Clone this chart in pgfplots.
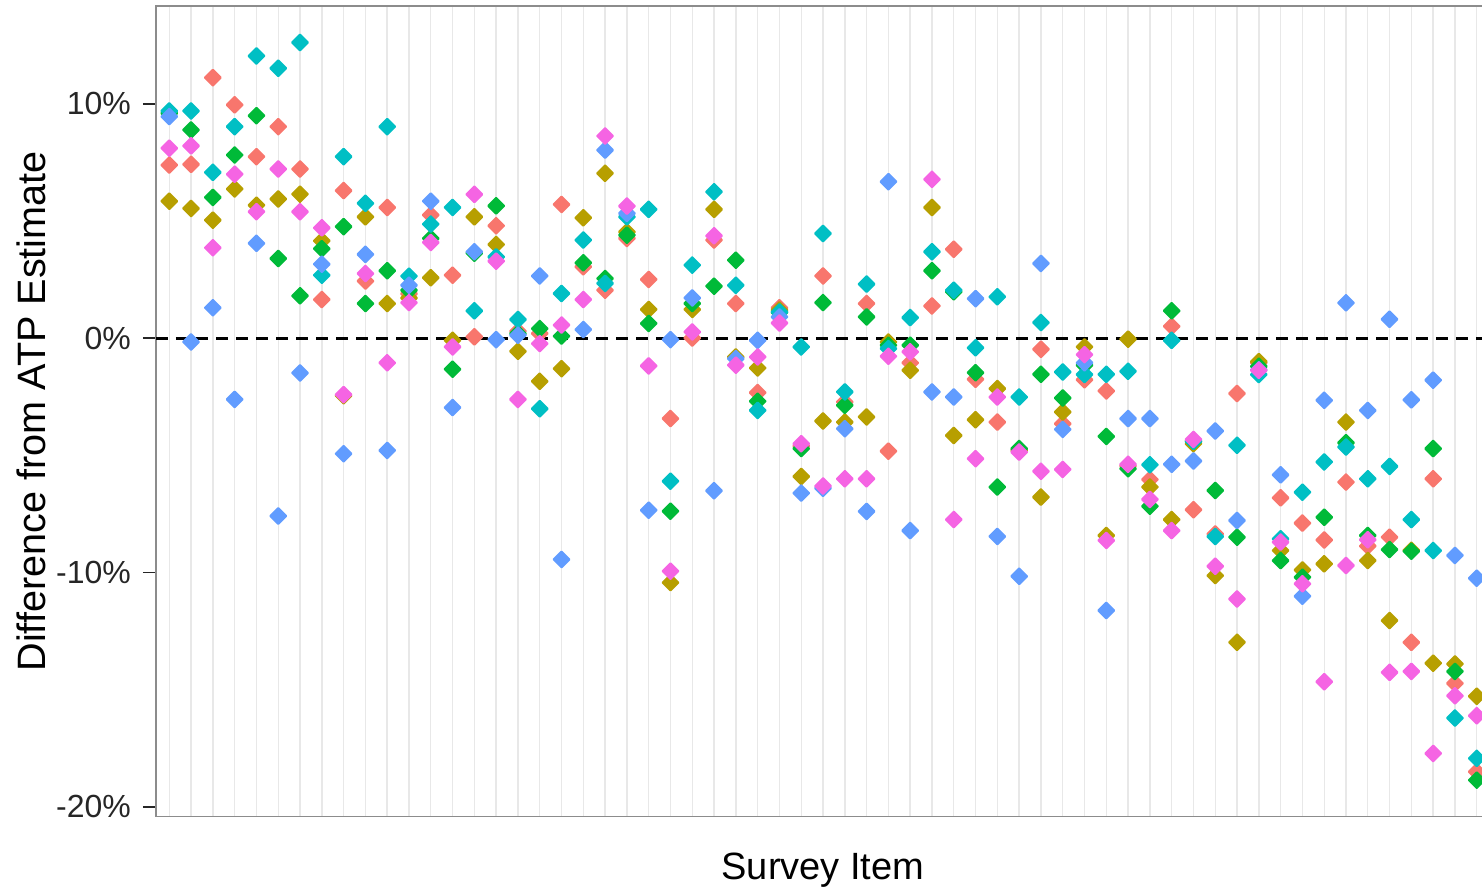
\documentclass[border=0pt]{standalone}
\usepackage{fontspec}
\setmainfont{Liberation Sans}
\usepackage{pgfplots}
\usepackage{pgfplotstable}
\pgfplotsset{compat=1.18}

\definecolor{hueRed}{HTML}{F8766D}
\definecolor{hueOlive}{HTML}{B79F00}
\definecolor{hueGreen}{HTML}{00BA38}
\definecolor{hueCyan}{HTML}{00BFC4}
\definecolor{hueBlue}{HTML}{619CFF}
\definecolor{hueMagenta}{HTML}{F564E3}
\definecolor{gridgray}{HTML}{E8E8E8}

% Difference from the ATP estimate (percentage points), one row per survey item
\pgfplotstableread{
item red olive green cyan blue magenta
1  7.39  5.85  9.60  9.70  9.46  8.11
2  7.42  5.54  8.89  9.70 -0.16  8.21
3  11.12 5.04  6.01  7.08  1.30  3.86
4  9.96  6.37  7.82  9.03 -2.61  7.00
5  7.75  5.68  9.50  12.05 4.05  5.40
6  9.03  5.94  3.40  11.52 -7.59 7.22
7  7.22  6.15  1.81  12.62 -1.48 5.40
8  1.65  4.16  3.82  2.69  3.16  4.71
9  6.30 -2.45  4.76  7.75 -4.93 -2.41
10 2.44  5.18  1.48  5.76  3.58  2.76
11 5.58  1.48  2.88  9.03 -4.79 -1.05
12 1.90  1.72  2.05  2.65  2.26  1.52
13 5.26  2.58  4.26  4.87  5.85  4.09
14 2.69 -0.09 -1.32  5.58 -2.96 -0.37
15 0.06  5.18  3.63  1.17  3.69  6.14
16 4.80  4.00  5.65  3.47 -0.06  3.29
17 0.30 -0.56  0.20  0.80  0.13 -2.61
18 0.20 -1.84  0.41 -3.01  2.66 -0.23
19 5.71 -1.30  0.09  1.91 -9.44  0.56
20 3.05  5.14  3.22  4.19  0.37  1.65
21 2.05  7.04  2.55  2.34  8.03  8.63
22 4.26  4.54  4.40  5.18  5.33  5.64
23 2.51  1.23  0.63  5.50 -7.34 -1.18
24 -3.43 -10.43 -7.38 -6.10 -0.06 -9.94
25 0.01  1.23  1.48  3.12  1.72  0.27
26 4.19  5.50  2.22  6.25 -6.51  4.37
27 1.48 -0.80  3.33  2.26 -0.87 -1.15
28 -2.32 -1.27 -2.69 -3.08 -0.09 -0.80
29 1.30  1.20  1.10  1.12  0.91  0.65
30 -4.60 -5.90 -4.71 -0.37 -6.61 -4.50
31 2.66 -3.53  1.52  4.47 -6.40 -6.31
32 -2.72 -3.58 -2.86 -2.29 -3.86 -6.00
33 1.48 -3.36  0.91  2.31 -7.39 -6.00
34 -4.82 -0.16 -0.30 -0.44  6.68 -0.77
35 -1.05 -1.37 -0.30  0.88 -8.21 -0.58
36 1.38  5.58  2.88  3.69 -2.29  6.78
37 3.80 -4.15  1.98  2.05 -2.51 -7.74
38 -1.75 -3.48 -1.47 -0.41  1.69 -5.14
39 -3.58 -2.15 -6.35  1.77 -8.46 -2.51
40 -4.75 -4.80 -4.71 -2.51 -10.16 -4.86
41 -0.47 -6.78 -1.54  0.67  3.19 -5.68
42 -3.65 -3.15 -2.55 -1.44 -3.89 -5.60
43 -1.77 -0.37 -1.15 -1.55 -1.05 -0.70
44 -2.25 -8.42 -4.19 -1.54 -11.62 -8.63
45 -5.45 -0.04 -5.57 -1.41 -3.43 -5.38
46 -6.03 -6.35 -7.17 -5.40 -3.43 -6.88
47 0.51 -7.74  1.17 -0.09 -5.38 -8.21
48 -7.32 -4.50 -4.40 -4.40 -5.24 -4.32
49 -8.35 -10.13 -6.50 -8.46 -3.96 -9.73
50 -2.36 -12.98 -8.49 -4.57 -7.78 -11.13
51 -1.05 -1.00 -1.20 -1.55 -1.35 -1.37
52 -6.81 -9.06 -9.49 -8.56 -5.83 -8.70
53 -7.89 -9.89 -10.20 -6.57 -11.01 -10.48
54 -8.61 -9.63 -7.64 -5.28 -2.65 -14.66
55 -6.14 -3.58 -4.46 -4.64  1.51 -9.70
56 -8.87 -9.49 -8.42 -6.00 -3.08 -8.60
57 -8.49 -12.05 -9.02 -5.47 0.81 -14.26
58 -12.98 -9.05 -9.09 -7.74 -2.63 -14.22
59 -6.00 -13.87 -4.71 -9.06 -1.79 -17.72
60 -14.73 -13.90 -14.22 -16.21 -9.27 -15.26
61 -18.50 -15.28 -18.86 -17.93 -10.24 -16.11
}\diffs

\pgfplotsset{
  dot/.style={only marks, mark=square*, mark size=2.8pt,
    mark options={rotate=45, line width=1pt, line join=round, draw=#1, fill=#1}},
}

\begin{document}
\begin{tikzpicture}
\begin{axis}[
  at={(0,0)}, anchor=south west,
  scale only axis, width=666.9pt, height=405.35pt,
  xmin=0.39, xmax=61.6, ymin=-20.42, ymax=14.18,
  xtick={1,...,61}, xticklabels={}, xtick style={draw=none},
  xmajorgrids, major grid style={color=gridgray, line width=0.7pt},
  ytick={-20,-10,0,10}, yticklabels={-20\%,-10\%,0\%,10\%},
  ytick pos=left, tick align=outside, major tick length=6.5pt,
  ytick style={black!85, line width=0.9pt},
  yticklabel style={font=\fontsize{16}{18}\selectfont, text=black!85, xshift=-2.5pt},
  axis line style={black!45, line width=0.8pt},
  ylabel={Difference from ATP Estimate},
  xlabel={Survey Item},
  every axis y label/.style={at={(rel axis cs:0,0.5)}, xshift=-62.5pt,
    rotate=90, anchor=center, font=\fontsize{19.8}{22}\selectfont},
  every axis x label/.style={at={(rel axis cs:0.5,0)}, yshift=-26.65pt,
    anchor=center, font=\fontsize{19}{22}\selectfont},
]
\addplot[dot=hueRed] table[x=item, y=red] {\diffs};
\addplot[dot=hueOlive] table[x=item, y=olive] {\diffs};
\addplot[dot=hueGreen] table[x=item, y=green] {\diffs};
\addplot[dot=hueCyan] table[x=item, y=cyan] {\diffs};
\addplot[dot=hueBlue] table[x=item, y=blue] {\diffs};
\addplot[dot=hueMagenta] table[x=item, y=magenta] {\diffs};
\addplot[black, line width=1.3pt, dash pattern=on 6pt off 4pt, forget plot]
  coordinates {(0.39,0) (61.6,0)};
\end{axis}
\pgfresetboundingbox
\useasboundingbox (-78pt,-37.65pt) rectangle (663pt,408.35pt);
\end{tikzpicture}
\end{document}
